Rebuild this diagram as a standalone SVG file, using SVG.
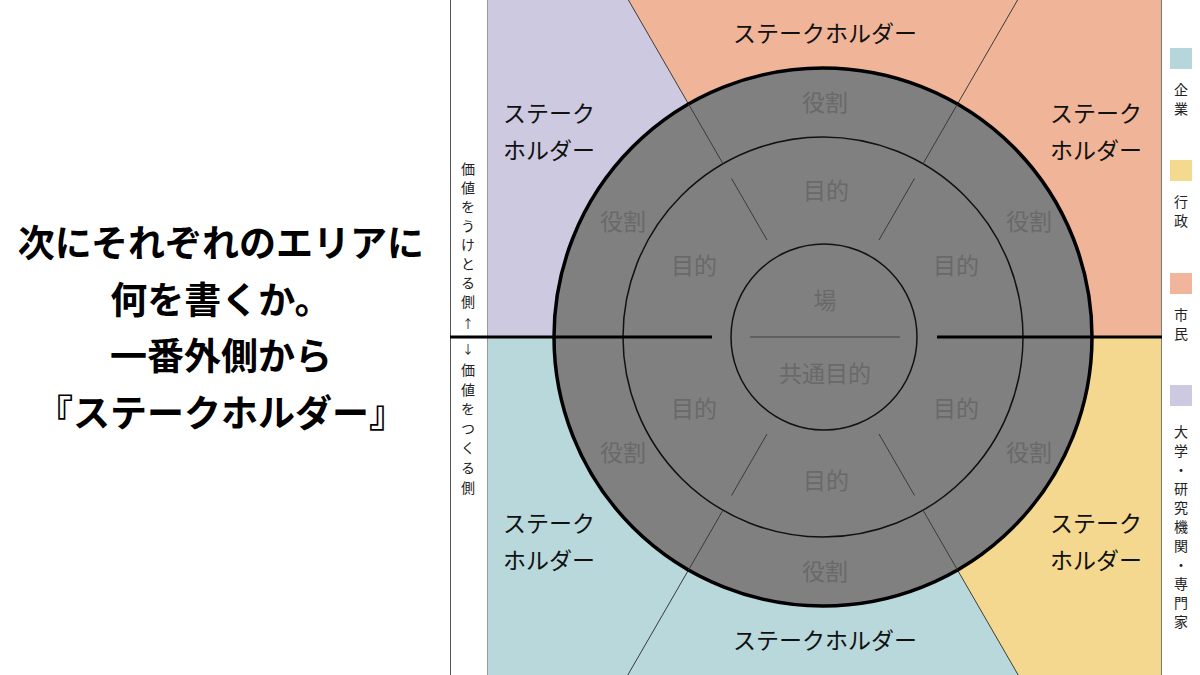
<svg xmlns="http://www.w3.org/2000/svg" width="1200" height="675" viewBox="0 0 1200 675">
<style>
text{font-family:"Noto Sans CJK JP","Noto Sans",sans-serif}
.title{font-size:37px;font-weight:bold;fill:#000;text-anchor:middle}
.sh{font-size:23px;fill:#111}
.shc{font-size:23px;fill:#111;text-anchor:middle}
.ci{font-size:23px;fill:#696969;text-anchor:middle}
.vt{font-size:14px;fill:#222;text-anchor:middle}
.ar{font-size:12px;fill:#222;text-anchor:middle}
.thin{stroke:#3a3a3a;stroke-width:1;fill:none}
.ring{stroke:#111;stroke-width:1.5;fill:none}
.bold{stroke:#000;stroke-width:3;fill:none}
</style>
<rect width="1200" height="675" fill="#fff"/>
<g id="regions">
  <polygon id="region-tl" points="487,0 628.4,0 823,337 487,337" fill="#cdc9e1"/>
  <polygon id="region-tr" points="628.4,0 1162,0 1162,337 823,337" fill="#f0b598"/>
  <polygon id="region-bl" points="487,337 823,337 1018.2,675 487,675" fill="#b8d8dc"/>
  <polygon id="region-br" points="823,337 1162,337 1162,675 1018.2,675" fill="#f5d88f"/>
  <line x1="487.5" y1="0" x2="487.5" y2="675" stroke="#9a9a9a" stroke-width="1"/>
  <line x1="1161.5" y1="0" x2="1161.5" y2="675" stroke="#7a7a7a" stroke-width="1"/>
  <line x1="450.5" y1="0" x2="450.5" y2="675" stroke="#555" stroke-width="1"/>
</g>
<g id="connectors">
  <line class="thin" x1="628.4" y1="0" x2="688.5" y2="104"/>
  <line class="thin" x1="1017.6" y1="0" x2="957.5" y2="104"/>
  <line class="thin" x1="627.8" y1="675" x2="688.5" y2="570"/>
  <line class="thin" x1="1018.2" y1="675" x2="957.5" y2="570"/>
</g>
<g id="circle">
  <circle id="outer" cx="823" cy="337" r="269" fill="#808080" stroke="#000" stroke-width="3.5"/>
  <circle id="middle" class="ring" cx="823" cy="337" r="200"/>
  <circle id="inner" class="ring" cx="824" cy="337" r="93"/>
  <line x1="750" y1="337" x2="900" y2="337" stroke="#555" stroke-width="1.5"/>
</g>
<g id="dividers">
  <line class="thin" x1="688.5" y1="104" x2="723" y2="163.8"/>
  <line class="thin" x1="957.5" y1="104" x2="923" y2="163.8"/>
  <line class="thin" x1="688.5" y1="570" x2="723" y2="510.2"/>
  <line class="thin" x1="957.5" y1="570" x2="923" y2="510.2"/>
  <line class="thin" x1="731.5" y1="178.5" x2="767" y2="240"/>
  <line class="thin" x1="914.5" y1="178.5" x2="879" y2="240"/>
  <line class="thin" x1="731.5" y1="495.5" x2="767" y2="434"/>
  <line class="thin" x1="914.5" y1="495.5" x2="879" y2="434"/>
  <line class="bold" x1="450" y1="337" x2="712" y2="337"/>
  <line class="bold" x1="937" y1="337" x2="1162" y2="337"/>
</g>
<g id="circle-labels">
  <text class="ci" x="825" y="111">役割</text>
  <text class="ci" x="623" y="230">役割</text>
  <text class="ci" x="1029" y="230">役割</text>
  <text class="ci" x="623" y="461">役割</text>
  <text class="ci" x="1029" y="461">役割</text>
  <text class="ci" x="825" y="580">役割</text>
  <text class="ci" x="826" y="199">目的</text>
  <text class="ci" x="694" y="274">目的</text>
  <text class="ci" x="956" y="274">目的</text>
  <text class="ci" x="694" y="417">目的</text>
  <text class="ci" x="956" y="417">目的</text>
  <text class="ci" x="826" y="489">目的</text>
  <text class="ci" x="825" y="309">場</text>
  <text class="ci" x="825" y="382">共通目的</text>
</g>
<g id="stakeholders">
  <text class="shc" x="825" y="42">ステークホルダー</text>
  <text class="shc" x="825" y="649">ステークホルダー</text>
  <text class="sh" x="503" y="122">ステーク</text>
  <text class="sh" x="503" y="159">ホルダー</text>
  <text class="sh" x="1050" y="122">ステーク</text>
  <text class="sh" x="1050" y="159">ホルダー</text>
  <text class="sh" x="503" y="532">ステーク</text>
  <text class="sh" x="503" y="569">ホルダー</text>
  <text class="sh" x="1050" y="532">ステーク</text>
  <text class="sh" x="1050" y="569">ホルダー</text>
</g>
<g id="title">
  <text class="title" x="221" y="257">次にそれぞれのエリアに</text>
  <text class="title" x="221" y="314">何を書くか。</text>
  <text class="title" x="221" y="370">一番外側から</text>
  <text class="title" x="221" y="427">『ステークホルダー』</text>
</g>
<g id="axis-label">
  <text class="vt" x="468" y="174">価</text>
  <text class="vt" x="468" y="193">値</text>
  <text class="vt" x="468" y="212">を</text>
  <text class="vt" x="468" y="231">う</text>
  <text class="vt" x="468" y="250">け</text>
  <text class="vt" x="468" y="269">と</text>
  <text class="vt" x="468" y="288">る</text>
  <text class="vt" x="468" y="307">側</text>
  <text class="ar" x="468" y="329">↑</text>
  <text class="ar" x="468" y="354">↓</text>
  <text class="vt" x="468" y="375">価</text>
  <text class="vt" x="468" y="395">値</text>
  <text class="vt" x="468" y="414">を</text>
  <text class="vt" x="468" y="434">つ</text>
  <text class="vt" x="468" y="453">く</text>
  <text class="vt" x="468" y="473">る</text>
  <text class="vt" x="468" y="493">側</text>
</g>
<g id="legend">
  <g id="legend-company">
    <rect x="1170" y="48" width="22" height="21" fill="#b5d6da"/>
    <text class="vt" x="1181" y="95">企</text>
    <text class="vt" x="1181" y="114">業</text>
  </g>
  <g id="legend-government">
    <rect x="1170" y="160" width="22" height="21" fill="#f4d98f"/>
    <text class="vt" x="1181" y="207">行</text>
    <text class="vt" x="1181" y="226">政</text>
  </g>
  <g id="legend-citizen">
    <rect x="1170" y="273" width="22" height="21" fill="#f0b59a"/>
    <text class="vt" x="1181" y="320">市</text>
    <text class="vt" x="1181" y="339">民</text>
  </g>
  <g id="legend-academia">
    <rect x="1170" y="385" width="22" height="21" fill="#cdc9e0"/>
    <text class="vt" x="1181" y="437">大</text>
    <text class="vt" x="1181" y="456">学</text>
    <text class="vt" x="1181" y="475">・</text>
    <text class="vt" x="1181" y="494">研</text>
    <text class="vt" x="1181" y="513">究</text>
    <text class="vt" x="1181" y="532">機</text>
    <text class="vt" x="1181" y="551">関</text>
    <text class="vt" x="1181" y="570">・</text>
    <text class="vt" x="1181" y="589">専</text>
    <text class="vt" x="1181" y="608">門</text>
    <text class="vt" x="1181" y="627">家</text>
  </g>
</g>
</svg>
